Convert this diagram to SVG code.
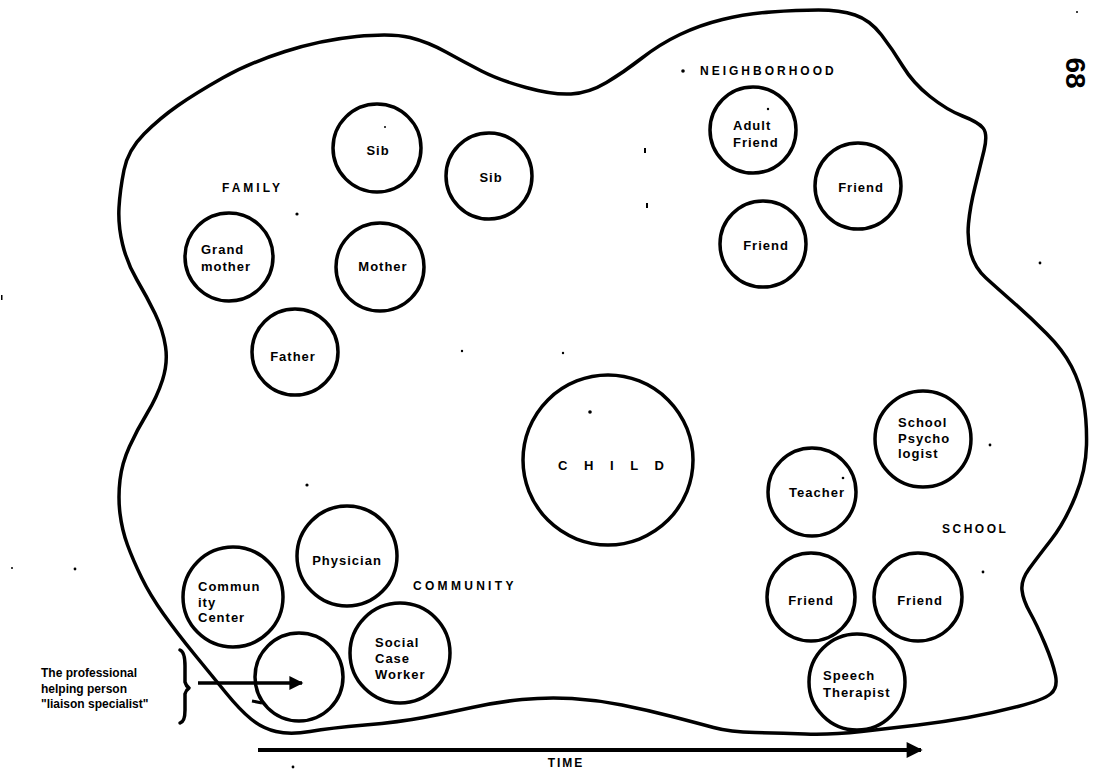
<svg xmlns="http://www.w3.org/2000/svg" width="1094" height="769" viewBox="0 0 1094 769">
<style>
.ring{fill:none;stroke:#000;stroke-width:3.5}
.line{fill:none;stroke:#000;stroke-width:3.5;stroke-linecap:round;stroke-linejoin:round}
.lbl{font-family:"Liberation Sans",Arial,sans-serif;font-weight:bold;font-size:13px;letter-spacing:1px;fill:#000}
.c{text-anchor:middle}
.cap{font-family:"Liberation Sans",Arial,sans-serif;font-weight:bold;font-size:12px;fill:#000}
.speck{fill:#000}
</style>
<defs>
<marker id="ah" viewBox="0 0 10 10" refX="9" refY="5" markerWidth="5" markerHeight="4" orient="auto" markerUnits="strokeWidth">
<path d="M0,0 L10,5 L0,10 Z" fill="#000"/>
</marker>
</defs>
<rect width="1094" height="769" fill="#fff"/>

<g id="boundary">
<path class="line" d="M119,207.5 Q120,190 124,170 Q128,150 144,134 Q160,118 178,105.5 Q196,93 222.5,78 Q249,63 285,51.5 Q321,40 356.5,36.5 Q392,33 410,37.5 Q428,42 446,52 Q464,62 481.5,71 Q499,80 526,87.5 Q553,95 571,94 Q589,93 606.5,82.5 Q624,72 642,58 Q660,44 680,34.5 Q700,25 722.5,19.5 Q745,14 771,12 Q797,10 818.5,10 Q840,10 855,15 Q870,20 881.5,35 Q893,50 903,66.5 Q913,83 930,96.5 Q947,110 962.5,116 Q978,122 983,128 Q988,134 984,150.5 Q980,167 975,187 Q970,207 968.5,223.5 Q967,240 971,254 Q975,268 986,278 Q997,288 1013.5,302.5 Q1030,317 1046.5,333.5 Q1063,350 1071.5,366.5 Q1080,383 1083.5,401.5 Q1087,420 1086.5,445 Q1086,470 1075.5,496 Q1065,522 1051,540 Q1037,558 1029,569 Q1021,580 1022,590 Q1023,600 1030,612.5 Q1037,625 1045,644 Q1053,663 1055.5,675.5 Q1058,688 1050.5,694 Q1043,700 1018,706.5 Q993,713 968,717.5 Q943,722 918,725 Q893,728 861.5,731.5 Q830,735 805,734 Q780,733 755,732.5 Q730,732 713.5,727.5 Q697,723 672,716.5 Q647,710 622,705 Q597,700 572,698.5 Q547,697 522,699.5 Q497,702 472,707.5 Q447,713 423.5,717.5 Q400,722 365,725 Q330,728 310,731.5 Q290,735 276,731.5 Q262,728 251,719 Q240,710 226.5,693.5 Q213,677 195,655 Q177,633 163.5,614 Q150,595 141.5,577.5 Q133,560 127.5,545 Q122,530 120,513.5 Q118,497 120,480 Q122,463 129.5,446.5 Q137,430 147,413.5 Q157,397 162.5,380 Q168,363 165.5,346.5 Q163,330 155,313.5 Q147,297 137,280 Q127,263 122.5,244 Q118,225 119,207.5 Z"/>
</g>

<g id="group-labels">
<text class="cap" x="222" y="192" style="letter-spacing:3px">FAMILY</text>
<text class="cap" x="700" y="75" style="letter-spacing:3px">NEIGHBORHOOD</text>
<text class="cap" x="942" y="533" style="letter-spacing:2.5px">SCHOOL</text>
<text class="cap" x="413" y="590" style="letter-spacing:3.3px">COMMUNITY</text>
</g>

<g id="family">
<g id="sib1"><circle class="ring" cx="377" cy="148" r="44"/><text class="lbl c" x="378" y="155">Sib</text></g>
<g id="sib2"><circle class="ring" cx="489" cy="176" r="43"/><text class="lbl c" x="491" y="182">Sib</text></g>
<g id="grandmother"><circle class="ring" cx="229" cy="257" r="44"/><text class="lbl" x="201" y="254">Grand</text><text class="lbl" x="201" y="271">mother</text></g>
<g id="mother"><circle class="ring" cx="380" cy="267" r="44"/><text class="lbl c" x="383" y="271">Mother</text></g>
<g id="father"><circle class="ring" cx="295" cy="352" r="43"/><text class="lbl c" x="293" y="361">Father</text></g>
</g>

<g id="neighborhood">
<g id="adult-friend"><circle class="ring" cx="753" cy="130" r="43"/><text class="lbl" x="733" y="130">Adult</text><text class="lbl" x="733" y="147">Friend</text></g>
<g id="n-friend1"><circle class="ring" cx="858" cy="186" r="43"/><text class="lbl c" x="861" y="192">Friend</text></g>
<g id="n-friend2"><circle class="ring" cx="763" cy="244" r="43"/><text class="lbl c" x="766" y="250">Friend</text></g>
</g>

<g id="child"><circle class="ring" cx="608" cy="460" r="85"/><text class="lbl" x="558" y="470" style="letter-spacing:6.5px">C H I L D</text></g>

<g id="school">
<g id="school-psychologist"><circle class="ring" cx="923" cy="439" r="48"/><text class="lbl" x="898" y="427">School</text><text class="lbl" x="898" y="443">Psycho</text><text class="lbl" x="898" y="458">logist</text></g>
<g id="teacher"><circle class="ring" cx="812" cy="492" r="44"/><text class="lbl c" x="817" y="497">Teacher</text></g>
<g id="s-friend1"><circle class="ring" cx="811" cy="597" r="44"/><text class="lbl c" x="811" y="605">Friend</text></g>
<g id="s-friend2"><circle class="ring" cx="918" cy="597" r="44"/><text class="lbl c" x="920" y="605">Friend</text></g>
<g id="speech-therapist"><circle class="ring" cx="857" cy="682" r="48"/><text class="lbl" x="823" y="680">Speech</text><text class="lbl" x="823" y="697">Therapist</text></g>
</g>

<g id="community">
<g id="physician"><circle class="ring" cx="347" cy="556" r="50"/><text class="lbl c" x="347" y="565">Physician</text></g>
<g id="community-center"><circle class="ring" cx="233" cy="597" r="50"/><text class="lbl" x="198" y="591">Commun</text><text class="lbl" x="198" y="607">ity</text><text class="lbl" x="198" y="622">Center</text></g>
<g id="liaison"><circle class="ring" cx="299" cy="677" r="44"/></g>
<g id="social-case-worker"><circle class="ring" cx="400" cy="653" r="50"/><text class="lbl" x="375" y="647">Social</text><text class="lbl" x="375" y="663">Case</text><text class="lbl" x="375" y="679">Worker</text></g>
</g>

<g id="legend">
<text class="cap" x="41" y="677">The professional</text>
<text class="cap" x="41" y="693">helping person</text>
<text class="cap" x="41" y="708">"liaison specialist"</text>
<path class="line" stroke-width="3" d="M180,650 Q185,652 185,666 L185,682 Q186,686 189,688 Q186,690 185,694 L185,710 Q185,722 180,723"/>
</g>

<g id="connectors">
<line x1="198" y1="683" x2="302" y2="683" stroke="#000" stroke-width="3.5" marker-end="url(#ah)"/>
<line x1="252" y1="701" x2="262" y2="703" stroke="#000" stroke-width="3"/>
<line x1="258" y1="750" x2="921" y2="750" stroke="#000" stroke-width="4" marker-end="url(#ah)"/>
</g>

<g id="time-label"><text class="cap" x="566" y="767" font-size="11" style="letter-spacing:2px" text-anchor="middle">TIME</text></g>

<g id="page-number"><text x="0" y="0" transform="translate(1066,73) rotate(90)" font-family="'Liberation Sans',Arial,sans-serif" font-weight="bold" font-size="28" text-anchor="middle">68</text></g>

<g id="specks">
<circle class="speck" cx="683" cy="71" r="1.8"/>
<circle class="speck" cx="297" cy="214" r="1.6"/>
<circle class="speck" cx="385" cy="127" r="1"/>
<circle class="speck" cx="768" cy="109" r="1.2"/>
<circle class="speck" cx="590" cy="412" r="1.8"/>
<circle class="speck" cx="843" cy="478" r="1.3"/>
<circle class="speck" cx="990" cy="445" r="1.4"/>
<circle class="speck" cx="983" cy="572" r="1.4"/>
<circle class="speck" cx="1040" cy="263" r="1.4"/>
<circle class="speck" cx="1077" cy="12" r="1"/>
<circle class="speck" cx="307" cy="485" r="1.6"/>
<circle class="speck" cx="75" cy="569" r="1.4"/>
<circle class="speck" cx="12" cy="568" r="1"/>
<circle class="speck" cx="462" cy="351" r="1.2"/>
<circle class="speck" cx="563" cy="353" r="1.2"/>
<circle class="speck" cx="293" cy="767" r="1.4"/>
<rect class="speck" x="644" y="148" width="2" height="5"/>
<rect class="speck" x="646" y="203" width="2" height="5"/>
<rect class="speck" x="1" y="295" width="1.5" height="5"/>
</g>
</svg>
